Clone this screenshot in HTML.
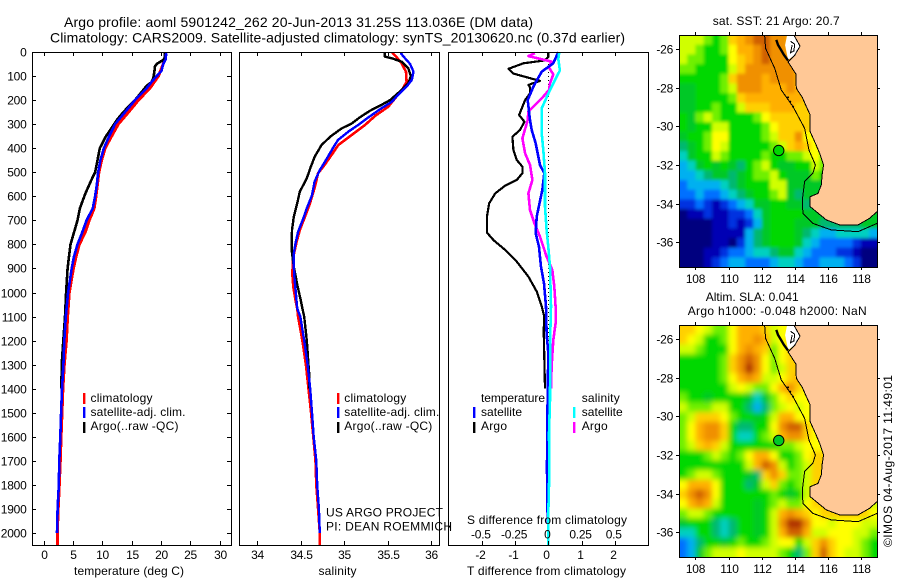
<!DOCTYPE html>
<html>
<head>
<meta charset="utf-8">
<title>Argo profile 5901242_262</title>
<style>
html,body{margin:0;padding:0;background:#fff;}
svg{display:block;}
text{font-family:"Liberation Sans",sans-serif;font-size:12px;fill:#000;}
.t14{font-size:14px;}
</style>
</head>
<body>
<svg id="chart" xmlns="http://www.w3.org/2000/svg" width="900" height="580" viewBox="0 0 900 580">
<defs>
<filter id="blur1" filterUnits="userSpaceOnUse" x="640" y="0" width="260" height="290"><feGaussianBlur stdDeviation="1.6"/></filter>
<filter id="blur2" filterUnits="userSpaceOnUse" x="640" y="300" width="260" height="280"><feGaussianBlur stdDeviation="2.6"/></filter>
<clipPath id="clip1"><rect x="679" y="35" width="198.4" height="232"/></clipPath>
<clipPath id="clip2"><rect x="679" y="325" width="198.4" height="232"/></clipPath>
</defs>

<g id="lines-layer"></g>
<g id="map-layer"></g>

<rect x="32.5" y="52.5" width="199" height="493" fill="none" stroke="#000" stroke-width="1"/>
<rect x="239.5" y="52.5" width="200" height="493" fill="none" stroke="#000" stroke-width="1"/>
<rect x="448.5" y="52.5" width="200" height="493" fill="none" stroke="#000" stroke-width="1"/>
<rect x="679.5" y="35.5" width="198" height="232" fill="none" stroke="#000" stroke-width="1"/>
<rect x="679.5" y="325.5" width="198" height="232" fill="none" stroke="#000" stroke-width="1"/>

<g id="ticks-layer"></g>

<text class="t14" x="64" y="27" textLength="469" lengthAdjust="spacing">Argo profile: aoml 5901242_262 20-Jun-2013 31.25S 113.036E (DM data)</text>
<text class="t14" x="50" y="42.5" textLength="575" lengthAdjust="spacing">Climatology: CARS2009. Satellite-adjusted climatology: synTS_20130620.nc (0.37d earlier)</text>

<text x="74" y="575" textLength="110" lengthAdjust="spacing">temperature (deg C)</text>
<text x="318.5" y="575" textLength="38" lengthAdjust="spacing">salinity</text>
<text x="467" y="575" textLength="159" lengthAdjust="spacing">T difference from climatology</text>
<text x="467" y="524" textLength="160" lengthAdjust="spacing">S difference from climatology</text>

<g>
<rect x="83" y="393" width="2.4" height="11" fill="#f00"/>
<rect x="83" y="407" width="2.4" height="11" fill="#00f"/>
<rect x="83" y="422" width="2.4" height="11" fill="#000"/>
<text x="90.5" y="402" textLength="62" lengthAdjust="spacing">climatology</text>
<text x="90.5" y="416" textLength="95" lengthAdjust="spacing">satellite-adj. clim.</text>
<text x="90.5" y="430" textLength="88" lengthAdjust="spacing">Argo(..raw -QC)</text>
</g>
<g>
<rect x="337" y="393" width="2.4" height="11" fill="#f00"/>
<rect x="337" y="407" width="2.4" height="11" fill="#00f"/>
<rect x="337" y="422" width="2.4" height="11" fill="#000"/>
<text x="344.3" y="402" textLength="62" lengthAdjust="spacing">climatology</text>
<text x="344.3" y="416" textLength="95" lengthAdjust="spacing">satellite-adj. clim.</text>
<text x="344.3" y="430" textLength="88" lengthAdjust="spacing">Argo(..raw -QC)</text>
</g>
<g>
<text x="481" y="402" textLength="64" lengthAdjust="spacing">temperature</text>
<text x="581.7" y="402" textLength="38" lengthAdjust="spacing">salinity</text>
<rect x="473" y="407" width="2.4" height="11" fill="#00f"/>
<rect x="473" y="422" width="2.4" height="11" fill="#000"/>
<rect x="573" y="407" width="2.4" height="11" fill="#0ff"/>
<rect x="573" y="422" width="2.4" height="11" fill="#f0f"/>
<text x="481" y="416" textLength="41" lengthAdjust="spacing">satellite</text>
<text x="481" y="430" textLength="26" lengthAdjust="spacing">Argo</text>
<text x="581.7" y="416" textLength="41" lengthAdjust="spacing">satellite</text>
<text x="581.7" y="430" textLength="26" lengthAdjust="spacing">Argo</text>
</g>

<text x="326" y="516.7" textLength="117" lengthAdjust="spacing">US ARGO PROJECT</text>
<text x="326" y="530.7" textLength="126" lengthAdjust="spacing">PI: DEAN ROEMMICH</text>

<text x="712.7" y="25" textLength="127" lengthAdjust="spacing">sat. SST: 21 Argo: 20.7</text>
<text x="705.7" y="301" textLength="93" lengthAdjust="spacing">Altim. SLA: 0.041</text>
<text x="687.7" y="315" textLength="179" lengthAdjust="spacing">Argo h1000: -0.048 h2000: NaN</text>
<text transform="translate(892,547) rotate(-90)" x="0" y="0" textLength="172" lengthAdjust="spacing">©IMOS 04-Aug-2017 11:49:01</text>
</svg>

<script>
// ---------- tick labels ----------
const depthTicks = [0,100,200,300,400,500,600,700,800,900,1000,1100,1200,1300,1400,1500,1600,1700,1800,1900,2000];
const tempTicks = [0,5,10,15,20,25,30];
const salTicks = [34,34.5,35,35.5,36];
const tDiffTicks = [-2,-1,0,1,2];
const sDiffTicks = [-0.5,-0.25,0,0.25,0.5];
const lonTicks = [108,110,112,114,116,118];
const latTicks = [-26,-28,-30,-32,-34,-36];

// ---------- temperature profiles ----------
const tempClimDepth = [5,50,100,150,200,250,300,350,400,450,500,600,650,700,750,800,850,900,1000,1100,1200,1300,1400,1500,1600,1700,1800,1900,2000,2055];
const tempClimValue = [20.9,20.4,19.6,18.15,16.2,14.5,12.75,11.6,10.5,9.9,9.45,8.95,8.65,7.8,7.1,6.1,5.55,5.1,4.4,4.1,3.9,3.55,3.3,3.15,3.0,2.87,2.7,2.5,2.35,2.35];
const tempArgoDepth = [5,30,50,60,90,110,125,140,200,250,280,350,400,450,500,530,590,650,700,750,800,850,900,1000,1100,1200,1300,1400];
const tempArgoValue = [20.7,20.6,19.3,19.0,18.85,18.7,18.4,17.6,15.6,13.6,12.6,10.65,9.6,9.2,8.8,8.2,7.1,6.2,5.8,5.2,4.6,4.35,4.1,3.85,3.66,3.38,3.1,3.05];
const tempSatDepth = [5,30,50,80,100,125,150,200,250,300,350,400,450,500,550,600,650,700,750,800,850,900,1000,1100,1200,1300,1400,1500,1600,1700,1800,1900,2000];
const tempSatValue = [20.9,20.85,20.4,20.1,19.3,18.4,17.6,15.6,13.9,12.2,11.2,10.3,9.7,9.3,9.1,8.8,8.4,7.35,6.6,5.8,5.2,4.8,4.2,3.8,3.55,3.4,3.15,3.0,2.87,2.7,2.6,2.4,2.3];

// ---------- salinity profiles ----------
const salClimDepth = [3,17,47,82,123,151,193,227,266,304,345,387,428,477,504,560,629,685,740,789,851,920,976,1031,1066,1100,1200,1300,1400,1500,1600,1700,1800,1900,2000,2055];
const salClimValue = [35.555,35.594,35.663,35.713,35.72,35.68,35.586,35.51,35.356,35.24,35.087,34.933,34.856,34.76,34.70,34.664,34.607,34.55,34.49,34.453,34.415,34.403,34.415,34.44,34.46,34.47,34.52,34.56,34.59,34.62,34.645,34.67,34.68,34.70,34.72,34.72];
const salArgoDepth = [3,19,26,40,68,100,130,165,200,220,244,272,297,318,352,387,436,484,525,581,629,685,740,823,893,976,1031,1066,1100,1200,1300,1350,1400];
const salArgoValue = [35.47,35.47,35.55,35.66,35.74,35.77,35.74,35.64,35.53,35.43,35.30,35.18,35.09,34.97,34.84,34.74,34.66,34.61,34.57,34.49,34.46,34.42,34.40,34.395,34.42,34.465,34.50,34.52,34.54,34.57,34.59,34.60,34.60];
const salSatDepth = [3,17,50,82,116,144,179,207,234,272,304,331,366,394,456,491,539,595,650,692,747,796,837,893,948,1003,1066,1100,1200,1300,1400,1500,1600,1700,1800,1900,2000];
const salSatValue = [35.65,35.68,35.76,35.80,35.78,35.72,35.62,35.55,35.43,35.28,35.16,35.05,34.93,34.88,34.78,34.72,34.66,34.63,34.57,34.53,34.47,34.44,34.42,34.42,34.43,34.445,34.46,34.495,34.54,34.58,34.61,34.63,34.65,34.68,34.69,34.71,34.72];

// ---------- differences from climatology ----------
const dTArgoDepth = [0,20,35,47,70,90,103,120,137,147,172,200,262,290,324,352,407,449,477,504,532,556,588,629,685,751,782,823,872,934,996,1058,1100,1156,1400];
const dTArgoValue = [0,0,-0.1,-0.75,-1.2,-1.05,-0.7,-0.25,-0.6,-0.55,-0.55,-0.7,-0.88,-0.72,-0.85,-1.08,-1.05,-0.95,-0.78,-0.78,-0.95,-1.3,-1.6,-1.78,-1.85,-1.85,-1.65,-1.3,-0.95,-0.6,-0.35,-0.2,-0.12,-0.14,-0.1];
const dTSatDepth = [0,47,82,144,200,283,324,380,470,504,574,685,754,810,893,962,1058,1170,1253,1447,1724,1890,1987,2055];
const dTSatValue = [0.3,0.15,-0.2,-0.45,-0.62,-0.55,-0.5,-0.38,-0.25,-0.12,-0.18,-0.35,-0.38,-0.28,-0.22,-0.13,-0.07,-0.05,0,-0.02,-0.04,-0.03,0,0];
const dSArgoDepth = [5,17,40,65,93,130,158,193,248,283,359,421,470,532,588,657,712,768,851,906,975,1058,1128,1197,1308,1400];
const dSArgoValue = [-0.1,-0.15,0.025,0.005,0.0375,0.0125,0.005,-0.05,-0.15,-0.155,-0.195,-0.175,-0.1375,-0.12,-0.15,-0.1375,-0.105,-0.0625,-0.0125,0.03,0.045,0.055,0.055,0.0375,0.025,0.02];
const dSSatDepth = [0,30,77,103,158,234,338,407,504,643,740,810,893,1058,1170,1447,1586,1752,1918,2055];
const dSSatValue = [0.0825,0.075,0.0875,0.0625,0.0125,-0.05,-0.05,-0.0375,-0.025,-0.025,-0.0125,0,0.0125,0.02,0.015,0.0125,0.005,0.0075,0,0];

// ---------- map grids: 0.5 degree cells, colour class of each cell, north to south ----------
const sstGrid = [
[10,10,10,9,8,9,12,13,14,15,15,14,14,13,13,13],
[10,10,9,8,8,9,11,13,13,14,15,14,14,13,13,13],
[10,9,9,8,8,8,11,12,13,14,15,14,14,14,13,13],
[9,9,8,8,8,8,10,12,14,14,14,14,14,14,13,13],
[8,8,8,8,8,9,12,14,14,14,13,14,14,14,13,13],
[7,7,8,8,8,9,10,14,14,14,13,13,13,14,13,12,12],
[7,7,8,8,8,8,9,12,13,13,13,13,13,13,13,12,12],
[7,7,8,8,9,8,8,10,12,12,12,13,13,13,12,12,12,12],
[8,7,9,10,9,8,8,8,8,9,11,12,12,12,12,12,11,11],
[8,7,8,8,10,10,8,8,8,8,9,11,12,12,12,12,11,11],
[7,8,8,9,11,11,8,8,8,8,9,10,12,12,14,11,11,9],
[6,7,8,9,11,10,8,8,8,8,8,9,10,12,13,12,11,9,8],
[5,7,8,8,10,9,8,8,8,8,9,8,8,9,9,10,11,9,8],
[4,5,7,8,7,8,7,6,8,9,10,8,7,7,8,8,10,9,8],
[4,4,5,6,7,7,6,7,8,9,9,10,8,7,7,7,9,8,8],
[3,4,4,4,4,5,6,7,8,8,8,10,10,7,7,7,7,7,7],
[3,3,4,3,3,4,5,6,7,8,8,9,10,7,6,7,7,7,7],
[2,2,3,2,1,2,3,4,5,7,7,8,8,7,7,6,7,7,7],
[0,1,1,2,1,1,2,2,3,5,7,8,8,8,8,7,7,7,7,6,6,6,7,7],
[0,0,0,0,1,1,2,1,2,4,7,8,8,8,7,7,7,6,6,6,6,6,7,7],
[0,0,0,0,1,1,1,1,4,6,7,8,8,8,7,6,5,4,4,5,5,5,5,4],
[0,0,0,0,1,1,0,2,4,6,7,8,8,8,7,5,4,3,3,3,3,2,1,1],
[0,0,0,1,1,2,3,3,4,5,5,6,7,7,5,4,3,3,3,2,2,1,0,0],
[0,0,0,1,2,3,4,4,3,3,3,4,5,5,4,3,3,4,4,4,3,2,0,0]
];
const slaGrid = [
[12,12,11,10,9,9,11,13,13,13,12,10,11,11,9,10],
[12,11,10,8,8,9,11,13,13,14,13,10,11,12,11,11],
[10,10,9,8,8,8,11,13,14,13,12,9,11,12,12,12],
[8,8,8,8,8,9,12,14,15,14,11,9,11,12,12,12],
[8,8,8,8,8,9,12,14,16,14,11,9,10,12,12,12],
[8,8,8,8,8,9,11,13,14,13,10,10,11,12,13,11,11],
[8,8,8,8,8,8,10,11,10,9,9,11,13,14,12,11,10,10],
[9,8,8,7,8,8,8,8,7,5,7,9,11,12,11,11,10,10],
[10,9,9,9,10,10,8,8,6,4,6,9,10,11,10,11,11,11],
[9,10,12,12,12,11,9,8,8,7,8,10,13,13,11,11,11,11],
[9,11,13,14,14,12,8,6,6,8,8,11,14,15,15,12,11,11],
[9,11,13,14,14,12,8,5,5,8,9,10,13,14,14,12,11,11,11],
[9,10,12,13,12,10,8,8,8,8,8,8,9,9,10,11,11,11,11],
[8,8,8,9,10,9,8,9,11,13,13,11,8,8,9,11,12,12,12],
[8,8,8,8,8,8,8,8,10,13,15,14,10,8,9,10,12,12,12],
[8,9,10,10,9,8,8,8,7,6,12,14,12,9,9,10,12,12,12],
[11,13,13,13,11,8,8,8,6,7,10,12,9,8,9,10,12,12],
[12,14,15,14,11,8,8,8,8,8,8,9,8,7,8,10,12,12],
[11,13,14,13,10,8,8,8,8,7,8,9,10,9,9,11,12,12,12,12,12,12,12,10],
[9,10,10,9,8,8,8,8,8,7,8,10,13,14,13,12,11,12,12,12,12,12,12,11],
[7,8,8,8,6,5,6,8,8,7,8,10,14,16,16,14,11,11,10,11,11,11,10,10],
[5,5,8,8,6,5,6,8,8,7,8,10,13,15,15,13,10,10,11,11,11,10,10,9],
[3,4,6,8,8,7,8,9,8,8,9,10,11,11,8,10,12,14,12,11,11,10,9,8],
[3,4,7,9,10,10,10,11,10,10,10,10,9,8,6,9,12,15,12,11,10,10,9,8]
];

// ---------- geography ----------
const coastLon = [113.95,114.32,114.02,113.60,114.08,114.10,114.46,114.70,114.94,114.94,115.25,115.51,115.75,115.67,115.61,115.41,114.94,114.94,115.30,115.91,116.72,117.83,118.53,118.98];
const coastLat = [-25.28,-25.85,-26.30,-26.67,-27.30,-28.03,-28.50,-28.98,-29.41,-30.28,-30.88,-31.40,-32.00,-32.43,-33.03,-33.47,-33.64,-34.16,-34.41,-34.84,-35.10,-35.10,-34.76,-34.41];
const shelfLon = [112.18,112.24,112.79,113.19,113.90,114.60,114.86,115.25,115.10,114.60,114.46,114.50,115.10,116.21,117.83,118.98];
const shelfLat = [-25.28,-25.97,-27.00,-28.12,-28.98,-30.10,-31.22,-32.00,-32.43,-32.86,-33.81,-34.50,-35.02,-35.36,-35.45,-35.02];
const bayLon = [113.54,113.95,114.32,114.02,113.60,113.42];
const bayLat = [-25.28,-25.28,-25.85,-26.30,-26.57,-25.80];
const islandLon = [112.89,112.99,113.14,113.35,113.60];
const islandLat = [-25.53,-25.79,-26.00,-26.30,-26.60];
const peninsulaLon = [113.75,114.0,113.95,113.75,113.85];
const peninsulaLat = [-25.6,-25.75,-26.1,-26.2,-25.8];
const abrolhosLon = [113.6,113.73,113.9];
const abrolhosLat = [-28.5,-28.72,-28.98];
const argoLon = 113.036;
const argoLat = -31.25;
const argoSstClass = 8;
const argoSlaClass = 7;

// ---------- colours and axes ----------
const palette = ['#00007f','#0000b4','#0030e0','#0070ff','#00b0f0','#00d0c0','#00b870','#00c828','#00d800','#70f000','#d0ff00','#ffff00','#ffd000','#ffb000','#f09000','#d06000','#b03000'];
const depthY = d => 52 + 0.2405 * d;
const tempX = t => 43.5 + 5.867 * t;
const salX = s => 257.3 + 86.8 * (s - 34);
const dTX = v => 548.3 + 33.2 * v;
const dSX = v => 548.3 + 132.8 * v;
const mapX = lon => 678.9 + 16.54 * (lon - 107);
const map1Y = lat => 49 + 19.33 * (-26 - lat);
const map2Y = lat => 339 + 19.33 * (-26 - lat);

const NS = 'http://www.w3.org/2000/svg';
function mk(tag, attrs, parent) {
  const el = document.createElementNS(NS, tag);
  for (const k in attrs) el.setAttribute(k, attrs[k]);
  parent.appendChild(el);
  return el;
}
function pts(xs, ys, fx, fy) {
  return xs.map((x, i) => fx(x).toFixed(1) + ',' + fy(ys[i]).toFixed(1)).join(' ');
}
function profile(parent, values, depths, fx, color, width) {
  const points = values.map((v, i) => fx(v).toFixed(1) + ',' + depthY(depths[i]).toFixed(1)).join(' ');
  return mk('polyline', {points: points, fill: 'none', stroke: color, 'stroke-width': width, 'stroke-linejoin': 'round', 'shape-rendering': 'crispEdges'}, parent);
}

const linesLayer = document.getElementById('lines-layer');
const ticksLayer = document.getElementById('ticks-layer');
const mapLayer = document.getElementById('map-layer');

// profile lines
let ln;
ln = profile(linesLayer, tempClimValue, tempClimDepth, tempX, '#f00', 3);


ln = profile(linesLayer, tempArgoValue, tempArgoDepth, tempX, '#000', 2.6);


ln = profile(linesLayer, tempSatValue, tempSatDepth, tempX, '#00f', 2.6);


ln = profile(linesLayer, salClimValue, salClimDepth, salX, '#f00', 2.6);


ln = profile(linesLayer, salArgoValue, salArgoDepth, salX, '#000', 2.4);


ln = profile(linesLayer, salSatValue, salSatDepth, salX, '#00f', 2.4);



const zeroLine = mk('line', {x1: 548.5, y1: 52, x2: 548.5, y2: 545, stroke: '#000', 'stroke-width': 1, 'stroke-dasharray': '1 3'}, linesLayer);


ln = profile(linesLayer, dTArgoValue, dTArgoDepth, dTX, '#000', 2.2);


ln = profile(linesLayer, dSArgoValue, dSArgoDepth, dSX, '#f0f', 2.6);


ln = profile(linesLayer, dTSatValue, dTSatDepth, dTX, '#00f', 2.6);


ln = profile(linesLayer, dSSatValue, dSSatDepth, dSX, '#0ff', 2.6);



const errH = mk('path', {d: 'M448.5 527H450.5M450.5 523V531', fill: 'none', stroke: '#000', 'stroke-width': 1}, linesLayer);



// axis ticks and labels
function label(x, y, text, anchor) {
  const t = mk('text', {x: x, y: y, 'text-anchor': anchor, 'letter-spacing': '-0.25'}, ticksLayer);
  t.textContent = text;
  return t;
}
function tick(x1, y1, x2, y2) {
  return mk('line', {x1: x1, y1: y1, x2: x2, y2: y2, stroke: '#000', 'stroke-width': 1}, ticksLayer);
}
depthTicks.forEach(d => {
  const y = Math.round(depthY(d)) + 0.5;
  const a = tick(32, y, 36, y);
  
  
  const b = tick(227, y, 231, y);
  
  
  const t = label(26.5, y + 4, String(d), 'end');
  
  
});
tempTicks.forEach(v => {
  const x = Math.round(tempX(v)) + 0.5;
  const a = tick(x, 52, x, 56);
  
  
  const b = tick(x, 541, x, 545);
  
  
  const t = label(x, 559, String(v), 'middle');
  
  
});
salTicks.forEach(v => {
  const x = Math.round(salX(v)) + 0.5;
  const a = tick(x, 52, x, 56);
  
  
  const b = tick(x, 541, x, 545);
  
  
  const t = label(x, 559, String(v), 'middle');
  
  
});
tDiffTicks.forEach(v => {
  const x = Math.round(dTX(v)) + 0.5;
  const a = tick(x, 52, x, 56);
  
  
  const b = tick(x, 541, x, 545);
  
  
  const t = label(x - 2, 559, String(v), 'middle');
  
  
});
sDiffTicks.forEach(v => {
  const t = label(dSX(v) - 1, 538.7, String(v), 'middle');
  
  
});

// maps
function heat(parent, grid, fy) {
  const lonStep = 0.5, latStep = 0.5, topLat = -25.28;
  grid.forEach((row, r) => {
    row.forEach((v, c) => {
      let x0 = mapX(107 + c * lonStep), x1 = mapX(107 + (c + 1) * lonStep);
      let y0 = fy(topLat - r * latStep), y1 = fy(topLat - (r + 1) * latStep);
      if (c === 0) x0 -= 10;
      if (c === 23) x1 += 10;
      if (r === 0) y0 -= 10;
      if (r === grid.length - 1) y1 += 10;
      const cell = mk('rect', {x: x0.toFixed(1), y: y0.toFixed(1), width: (x1 - x0 + 0.6).toFixed(1), height: (y1 - y0 + 0.6).toFixed(1), fill: palette[v]}, parent);
      
      
    });
  });
}
function drawMap(clipId, blurId, grid, fy, yTop, markerClass) {
  const clip = mk('g', {'clip-path': 'url(#' + clipId + ')'}, mapLayer);
  
  
  const bg = mk('rect', {x: 679, y: yTop, width: 199, height: 232, fill: '#ffc896'}, clip);
  
  
  const cells = mk('g', {filter: 'url(#' + blurId + ')'}, clip);
  
  
  heat(cells, grid, fy);

  const landLon = coastLon.concat([119.5, 119.5]);
  const landLat = coastLat.concat([-34.41, -25.28]);
  const land = mk('polygon', {points: pts(landLon, landLat, mapX, fy), fill: '#ffc896'}, clip);
  
  

  const bay = mk('polygon', {points: pts(bayLon, bayLat, mapX, fy), fill: '#fff', stroke: 'none'}, clip);
  
  
  const pen = mk('polyline', {points: pts(peninsulaLon, peninsulaLat, mapX, fy), fill: 'none', stroke: '#000', 'stroke-width': 1, 'shape-rendering': 'crispEdges'}, clip);
  
  
  const isl = mk('polyline', {points: pts(islandLon, islandLat, mapX, fy), fill: 'none', stroke: '#000', 'stroke-width': 2.4}, clip);
  
  

  const coast = mk('polyline', {points: pts(coastLon, coastLat, mapX, fy), fill: 'none', stroke: '#000', 'stroke-width': 1, 'shape-rendering': 'crispEdges'}, clip);
  
  
  const shelf = mk('polyline', {points: pts(shelfLon, shelfLat, mapX, fy), fill: 'none', stroke: '#000', 'stroke-width': 1, 'shape-rendering': 'crispEdges'}, clip);
  
  
  abrolhosLon.forEach((lon, i) => {
    const dot = mk('circle', {cx: mapX(lon), cy: fy(abrolhosLat[i]), r: 1, fill: '#000'}, clip);
    
    
  });
  const marker = mk('circle', {cx: mapX(argoLon), cy: fy(argoLat), r: 5.2, fill: palette[markerClass], stroke: '#000', 'stroke-width': 1}, clip);
  
  

  lonTicks.forEach(lon => {
    const x = Math.round(mapX(lon)) + 0.5;
    const a = tick(x, yTop - 3, x, yTop);
    
    
    const b = tick(x, yTop + 232, x, yTop + 235);
    
    
    const t = label(x, yTop + 248, String(lon), 'middle');
    
    
  });
  latTicks.forEach(lat => {
    const y = Math.round(fy(lat)) + 0.5;
    const a = tick(676, y, 679, y);
    
    
    const b = tick(877, y, 880, y);
    
    
    const t = label(673, y + 4, String(lat), 'end');
    
    
  });
}
drawMap('clip1', 'blur1', sstGrid, map1Y, 35, argoSstClass);
drawMap('clip2', 'blur2', slaGrid, map2Y, 325, argoSlaClass);
</script>
</body>
</html>
